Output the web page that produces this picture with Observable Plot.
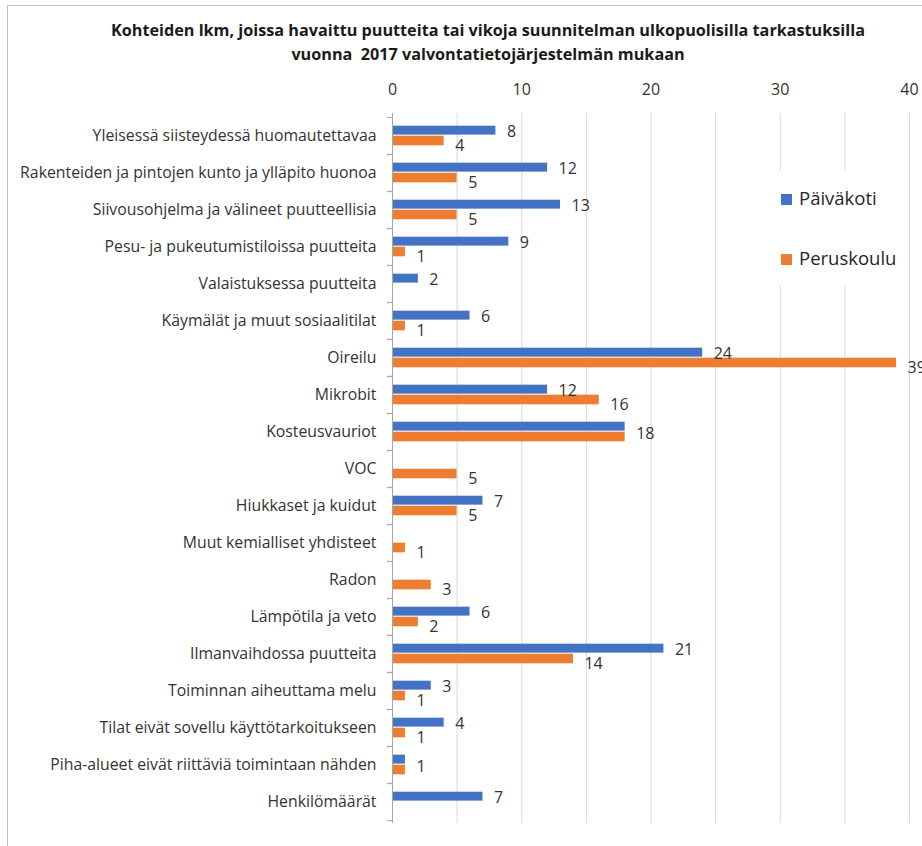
<!DOCTYPE html>
<html>
<head>
<meta charset="utf-8">
<script src="https://cdn.jsdelivr.net/npm/d3@7"></script>
<script src="https://cdn.jsdelivr.net/npm/@observablehq/plot@0.6"></script>
<style>
  html, body { margin: 0; padding: 0; background: #fff; }
  #wrap { position: relative; width: 922px; height: 846px; overflow: hidden; font-family: "Open Sans", Lato, sans-serif; }
  #frame { position: absolute; left: 7px; top: 5px; width: 1200px; height: 1200px; border: 1px solid #bfbfbf; box-sizing: border-box; pointer-events: none; }
  #title { position: absolute; left: 0; top: 18px; width: 976px; text-align: center; font-weight: bold; font-size: 16.2px; line-height: 24px; color: #1a1a1a; }
  #chart { position: absolute; left: 0; top: 66px; line-height: 0; }
  #legend { position: absolute; left: 770px; top: 171px; width: 134px; height: 114px; background: #fff; }
  .item { position: absolute; left: 11px; font-size: 18.5px; color: #262626; line-height: 22px; white-space: nowrap; }
  .sw { display: inline-block; width: 11px; height: 11px; margin-right: 7px; vertical-align: 0px; }
</style>
</head>
<body>
<div id="wrap">
  <div id="title">Kohteiden lkm, joissa havaittu puutteita tai vikoja suunnitelman ulkopuolisilla tarkastuksilla<br>vuonna&nbsp; 2017 valvontatietojärjestelmän mukaan</div>
  <div id="chart"></div>
  <div id="legend"></div>
  <div id="frame"></div>
</div>
<script>
const categories = [
  "Yleisessä siisteydessä huomautettavaa",
  "Rakenteiden ja pintojen kunto ja ylläpito huonoa",
  "Siivousohjelma ja välineet puutteellisia",
  "Pesu- ja pukeutumistiloissa puutteita",
  "Valaistuksessa puutteita",
  "Käymälät ja muut sosiaalitilat",
  "Oireilu",
  "Mikrobit",
  "Kosteusvauriot",
  "VOC",
  "Hiukkaset ja kuidut",
  "Muut kemialliset yhdisteet",
  "Radon",
  "Lämpötila ja veto",
  "Ilmanvaihdossa puutteita",
  "Toiminnan aiheuttama melu",
  "Tilat eivät sovellu käyttötarkoitukseen",
  "Piha-alueet eivät riittäviä toimintaan nähden",
  "Henkilömäärät"
];
const paivakoti  = [8, 12, 13, 9, 2, 6, 24, 12, 18, null, 7, null, null, 6, 21, 3, 4, 1, 7];
const peruskoulu = [4, 5, 5, 1, null, 1, 39, 16, 18, 5, 5, 1, 3, 2, 14, 1, 1, 1, null];
const seriesNames = ["Päiväkoti", "Peruskoulu"];
const seriesColors = ["#4472C4", "#ED7D31"];
const xTickLabels = [0, 10, 20, 30, 40];
const xGridLines = [5, 10, 15, 20, 25, 30, 35, 40];

const rows = categories.map((c, i) => ({cat: c, p: paivakoti[i], k: peruskoulu[i]}));
const blueRows = rows.filter(d => d.p != null);
const orangeRows = rows.filter(d => d.k != null);

const marginTop = 47, marginBottom = 23, plotH = 710;
const bw = plotH / categories.length;
const barH = 10;

const font = "'Open Sans', Lato, sans-serif";

const chart = Plot.plot({
  width: 922,
  height: marginTop + plotH + marginBottom,
  marginTop, marginBottom,
  marginLeft: 392,
  marginRight: 13,
  style: {fontFamily: font, fontSize: "16px", color: "#333", background: "#fff", overflow: "visible"},
  x: {domain: [0, 40]},
  y: {domain: categories, padding: 0},
  marks: [
    Plot.ruleX(xGridLines, {stroke: "#d9d9d9", strokeWidth: 1}),
    Plot.barX(blueRows, {x: "p", y: "cat", fill: seriesColors[0], insetTop: bw / 2 - barH, insetBottom: bw / 2 + 0.7}),
    Plot.barX(orangeRows, {x: "k", y: "cat", fill: seriesColors[1], insetTop: bw / 2, insetBottom: bw / 2 - barH}),
    Plot.ruleX([0], {stroke: "#a6a6a6", strokeWidth: 1}),
    Plot.axisY({anchor: "left", tickSize: 5, text: null, label: null, dy: -bw / 2, stroke: "#a6a6a6"}),
    Plot.axisY({anchor: "left", tickSize: 5, text: null, label: null, dy: bw / 2, stroke: "#a6a6a6"}),
    Plot.axisY({anchor: "left", tickSize: 0, tickPadding: 16, fontSize: 15.8, fill: "#333", label: null}),
    Plot.axisX({anchor: "top", ticks: xTickLabels, tickSize: 0, tickPadding: 19, fontSize: 16, fill: "#333", label: null}),
    Plot.text(blueRows.filter(d => d.p !== d.k), {x: "p", y: "cat", text: d => String(d.p), textAnchor: "start", dx: 11, dy: -4.5, fontSize: 16, fill: "#333"}),
    Plot.text(orangeRows.filter(d => d.p !== d.k), {x: "k", y: "cat", text: d => String(d.k), textAnchor: "start", dx: 11, dy: 10, fontSize: 16, fill: "#333"}),
    Plot.text(orangeRows.filter(d => d.p === d.k), {x: "k", y: "cat", text: d => String(d.k), textAnchor: "start", dx: 11, dy: 2, fontSize: 16, fill: "#333"})
  ]
});
document.getElementById("chart").appendChild(chart);

const legend = document.getElementById("legend");
seriesNames.forEach((name, i) => {
  const el = document.createElement("div");
  el.className = "item";
  el.style.top = (16 + i * 60) + "px";
  el.innerHTML = `<span class="sw" style="background:${seriesColors[i]}"></span>${name}`;
  legend.appendChild(el);
});
</script>
</body>
</html>
